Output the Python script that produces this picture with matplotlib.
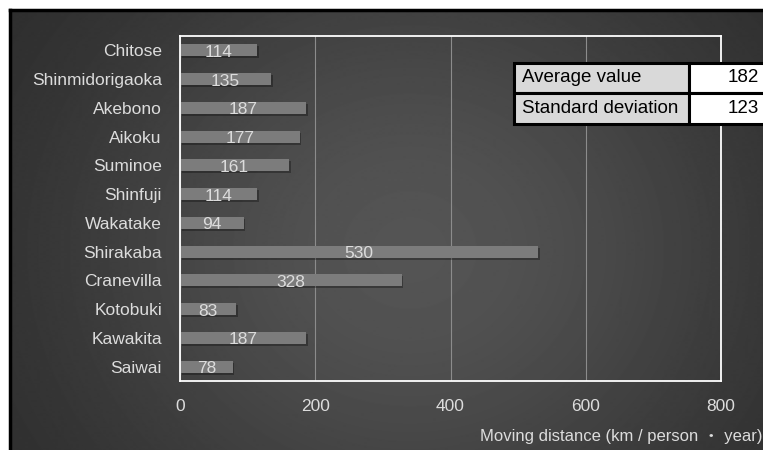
import numpy as np
import matplotlib
matplotlib.use("Agg")
import matplotlib.pyplot as plt
from matplotlib import patheffects as pe
from matplotlib.patches import Rectangle

plt.rcParams['font.family'] = ['Liberation Sans', 'Noto Sans CJK JP', 'DejaVu Sans']

# Data
districts = ["Chitose", "Shinmidorigaoka", "Akebono", "Aikoku", "Suminoe", "Shinfuji",
             "Wakatake", "Shirakaba", "Cranevilla", "Kotobuki", "Kawakita", "Saiwai"]
distance = [114, 135, 187, 177, 161, 114, 94, 530, 328, 83, 187, 78]
x_ticks = [0, 200, 400, 600, 800]
stat_names = ["Average value", "Standard deviation"]
stat_values = [182, 123]
x_label = "Moving distance (km / person \u30fb year)"

W, H = 763, 450
fig = plt.figure(figsize=(W / 100, H / 100), dpi=100)
fig.patch.set_facecolor("white")

# Dark radial-gradient backdrop with a black frame on the left and top
bg = fig.add_axes([10 / W, -0.02, (W - 10) / W + 0.02, (H - 10) / H + 0.02])
yy, xx = np.mgrid[0:450, 0:770]
dx = (xx - 400) / 260.0
dy = (yy - 240) / 230.0
shade = 0.15 + 0.18 * np.exp(-(dx ** 2 + dy ** 2) / 2)
bg.imshow(shade, cmap="gray", vmin=0, vmax=1, aspect="auto",
          extent=[0, 770, 450, 0], interpolation="bilinear")
bg.set_xlim(0, 770)
bg.set_ylim(450, 0)
bg.set_xticks([])
bg.set_yticks([])
for side in ("right", "bottom"):
    bg.spines[side].set_visible(False)
for side in ("left", "top"):
    bg.spines[side].set_color("black")
    bg.spines[side].set_linewidth(2.5)

# Bar chart
ax = fig.add_axes([180 / W, (H - 381) / H, (721 - 180) / W, (381 - 36) / H])
ax.set_facecolor("none")
ypos = np.arange(len(districts))
bars = ax.barh(ypos, distance, height=0.42, color="#7c7c7c", zorder=3)
for b in bars:
    b.set_path_effects([pe.SimplePatchShadow(offset=(1.2, -1.5), shadow_rgbFace="black", alpha=0.3),
                        pe.Normal()])
for y, v in zip(ypos, distance):
    ax.text(v / 2, y + 0.07, f"{v}", ha="center", va="center",
            color="#dcdcdc", fontsize=12.5, zorder=4)

ax.set_xlim(0, 800)
ax.set_ylim(len(districts) - 0.5, -0.5)
ax.set_yticks(ypos)
ax.set_yticklabels(districts)
ax.set_xticks(x_ticks)
ax.tick_params(axis="both", length=0, colors="#dcdcdc", labelsize=12.5)
ax.tick_params(axis="y", pad=13)
ax.tick_params(axis="x", pad=13)
for lbl in ax.get_xticklabels():
    lbl.set_x(lbl.get_position()[0])
ax.grid(axis="x", color="#8c8c8c", linewidth=0.8, zorder=1)
for s in ax.spines.values():
    s.set_color("white")
    s.set_linewidth(1.3)
    s.set_zorder(5)

fig.text(763 / W, 1 - 437 / H, x_label, ha="right", va="center",
         color="#dcdcdc", fontsize=12)

# Summary statistics table
tx0, tx1, tx2 = 514, 689, 800
ty = [63, 93, 124]
for i, (name, val) in enumerate(zip(stat_names, stat_values)):
    top, bot = ty[i], ty[i + 1]
    for x0, x1, fc in ((tx0, tx1, "#d9d9d9"), (tx1, tx2, "white")):
        fig.add_artist(Rectangle((x0 / W, 1 - bot / H), (x1 - x0) / W, (bot - top) / H,
                                 transform=fig.transFigure, facecolor=fc,
                                 edgecolor="black", linewidth=2.2, zorder=10))
    yc = 1 - (top + bot) / 2 / H
    fig.text(522 / W, yc, name, ha="left", va="center", color="black",
             fontsize=13.5, zorder=11)
    fig.text(759 / W, yc, f"{val}", ha="right", va="center", color="black",
             fontsize=13.5, zorder=11)

fig.savefig("out.png", dpi=100, facecolor=fig.get_facecolor())
